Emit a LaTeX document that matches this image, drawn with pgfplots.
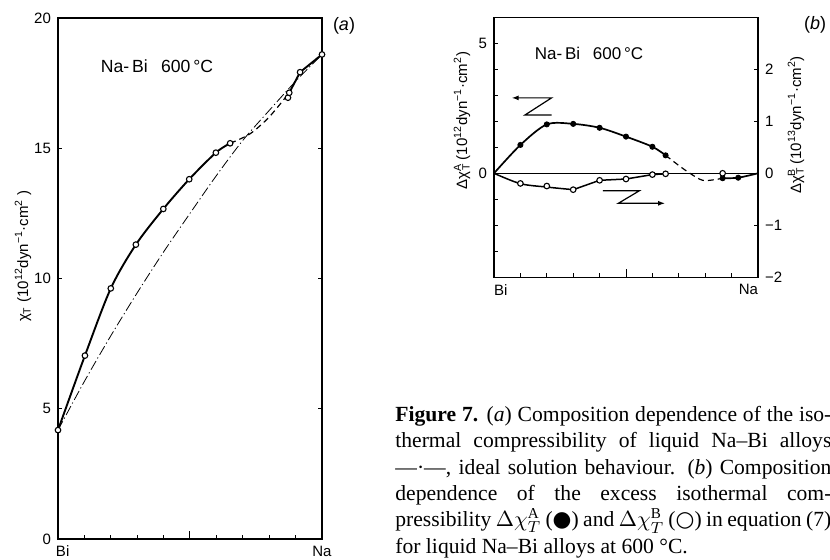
\documentclass[border=0pt]{standalone}
\usepackage{pgfplots}
\pgfplotsset{compat=1.18}
\usepackage{fontspec}
\setmainfont{Liberation Serif}
\newfontfamily\arialf{Liberation Sans}
\newfontfamily\symf{DejaVu Sans}
\usetikzlibrary{arrows.meta}
\pgfplotsset{
  myax/.style={
    scale only axis, width=132pt,
    axis line style={line width=0.6pt},
    every tick/.style={line width=0.5pt, black},
    tick align=inside,
    major tick length=2pt, minor tick length=2pt,
    tick label style={font=\arialf\fontsize{7.5}{8}\selectfont},
    /pgf/number format/assume math mode=true,
    xmin=0, xmax=1,
    xtick={0,1},
    minor xtick={0.1,0.2,0.3,0.4,0.6,0.7,0.8,0.9},
    extra x ticks={0.5}, extra x tick labels={},
    extra x tick style={major tick length=4pt},
    xtick pos=bottom,
    clip=false,
  },
  dot/.style={only marks, mark=*, mark size=1.3pt, mark options={black, fill=black}},
  ring/.style={only marks, mark=*, mark size=1.4pt, mark options={black, fill=white, line width=0.55pt}},
}
\begin{document}
\begin{tikzpicture}
\useasboundingbox (0,0) rectangle (415pt,280pt);
\clip (0,0) rectangle (415pt,280pt);

% ---------- panel (a)
\begin{axis}[myax, at={(29pt,10.5pt)}, anchor=south west, height=260.5pt,
  xticklabels={\makebox[0pt][l]{\hspace*{-1pt}Bi},Na},
  ymin=0, ymax=20, ytick={0,5,10,15,20}, ytick pos=both, yticklabel pos=left]
% ideal solution line
\addplot[black, line width=0.4pt, dash pattern=on 5pt off 1.5pt on 0.6pt off 1.5pt, smooth]
  coordinates {(0,4.18)(0.1,6.05)(0.2,7.8)(0.3,9.45)(0.4,11.02)(0.5,12.5)(0.6,13.95)(0.7,15.3)(0.8,16.45)(0.9,17.57)(1,18.6)};
% measured
\addplot[black, line width=0.95pt, smooth]
  coordinates {(0,4.18)(0.102,7.04)(0.2,9.62)(0.295,11.30)(0.399,12.67)(0.497,13.81)(0.598,14.83)(0.652,15.19)};
\addplot[black, line width=0.6pt, dash pattern=on 3pt off 2pt, smooth]
  coordinates {(0.652,15.19)(0.727,15.55)(0.80,16.2)(0.876,17.13)};
\addplot[black, line width=0.95pt]
  coordinates {(0.876,17.13)(0.917,17.92)(1,18.6)};
\addplot[ring] coordinates {(0,4.18)(0.102,7.04)(0.2,9.62)(0.295,11.30)(0.399,12.67)(0.497,13.81)(0.598,14.83)(0.652,15.19)(0.871,16.94)(0.876,17.13)(0.917,17.92)(1,18.6)};
\end{axis}

% ---------- panel (b), left axis
\begin{axis}[myax, at={(247pt,141.35pt)}, anchor=south west, height=130pt,
  xticklabels={\makebox[0pt][l]{Bi},\makebox[0pt][r]{Na}},
  ymin=-4, ymax=6, ytick={-4,-3,-2,-1,0,1,2,3,4,5,6},
  yticklabels={,,,,0,,,,,5,}, ytick pos=left]
\addplot[black, line width=0.6pt] coordinates {(0,0)(1,0)};
\addplot[black, line width=0.85pt, smooth]
  coordinates {(0,0)(0.1,1.09)(0.2,1.88)(0.3,1.9)(0.4,1.75)(0.5,1.41)(0.6,1.02)(0.65,0.69)};
\addplot[black, line width=0.6pt, dash pattern=on 3pt off 2pt, smooth]
  coordinates {(0.65,0.69)(0.7,0.3)(0.742,0)(0.79,-0.27)(0.84,-0.24)(0.866,-0.19)};
\addplot[black, line width=0.85pt, smooth]
  coordinates {(0.866,-0.19)(0.925,-0.17)(1,0)};
\addplot[dot] coordinates {(0.1,1.09)(0.2,1.88)(0.3,1.9)(0.4,1.75)(0.5,1.41)(0.6,1.02)(0.65,0.69)(0.866,-0.19)(0.925,-0.17)};
\draw[line width=0.6pt, {Latex[length=3.5pt,width=2.5pt]}-]
  (axis cs:0.067,2.9) -- (axis cs:0.218,2.9) -- (axis cs:0.117,2.24) -- (axis cs:0.218,2.24);
\end{axis}

% ---------- panel (b), right axis
\begin{axis}[scale only axis, width=132pt, height=130pt, at={(247pt,141.35pt)}, anchor=south west,
  xmin=0, xmax=1, ymin=-2, ymax=3, axis x line=none, axis y line*=right,
  axis line style={line width=0.6pt, -},
  every tick/.style={line width=0.5pt, black}, tick align=inside, major tick length=2pt,
  tick label style={font=\arialf\fontsize{7.5}{8}\selectfont},
  ytick={-2,-1,0,1,2}, yticklabels={−2,−1,0,1,2}, clip=false]
\addplot[black, line width=0.75pt, smooth]
  coordinates {(0,0)(0.1,-0.2)(0.2,-0.265)(0.3,-0.315)};
\addplot[black, line width=0.75pt]
  coordinates {(0.3,-0.315)(0.4,-0.135)(0.5,-0.11)(0.6,-0.025)(0.65,-0.01)};
\addplot[ring] coordinates {(0.1,-0.195)(0.2,-0.245)(0.3,-0.315)(0.4,-0.135)(0.5,-0.11)(0.6,-0.025)(0.65,-0.01)(0.866,0.0)};
\draw[line width=0.6pt, -{Latex[length=3.5pt,width=2.5pt]}]
  (axis cs:0.412,-0.335) -- (axis cs:0.551,-0.335) -- (axis cs:0.471,-0.577) -- (axis cs:0.648,-0.577);
\end{axis}

% ---------- labels
\begin{scope}[every node/.style={font=\arialf\fontsize{7.5}{9}\selectfont, inner sep=0pt}]
\node[rotate=90] at (11.5pt,152pt) {χ\textsubscript{T} (10\textsuperscript{12}dyn\textsuperscript{−1}·cm\textsuperscript{2} )};
\node[rotate=90, anchor=west] at (231pt,185pt) {Δχ\textsuperscript{A}\kern-0.45em\textsubscript{T}\kern0.2em (10\textsuperscript{12}dyn\textsuperscript{−1}·cm\textsuperscript{2})};
\node[rotate=90] at (398pt,217.5pt) {Δχ\textsuperscript{B}\kern-0.45em\textsubscript{T}\kern0.2em (10\textsuperscript{13}dyn\textsuperscript{−1}·cm\textsuperscript{2})};
\node[font=\arialf\fontsize{8.8}{9}\selectfont] at (78.5pt,247pt) {Na-\,Bi\hspace{0.75em}600\,°C};
\node[font=\arialf\fontsize{8.5}{9}\selectfont] at (294.5pt,253.5pt) {Na-\,Bi\hspace{0.75em}600\,°C};
\node[font=\arialf\fontsize{9}{10}\selectfont] at (172pt,267pt) {(\textit{a})};
\node[font=\arialf\fontsize{9}{10}\selectfont] at (407.5pt,267.5pt) {(\textit{b})};
\end{scope}

% ---------- caption (runs past the right edge, as in the reference)
\begin{scope}[every node/.style={anchor=base west, inner sep=0pt, font=\fontsize{10.8}{13}\selectfont}]
\node at (197.5pt,69.2pt) {\makebox[218pt][s]{\textbf{Figure 7.} (\textit{a}) Composition dependence of the iso-}};
\node at (197.5pt,56.05pt) {\makebox[218pt][s]{thermal compressibility of liquid Na–Bi alloys}};
\node at (197.5pt,42.9pt) {\makebox[218pt][s]{—·—, ideal solution behaviour. (\textit{b}) Composition}};
\node at (197.5pt,29.75pt) {\makebox[218pt][s]{dependence of the excess isothermal com-}};
\node at (197.5pt,16.6pt) {\makebox[218pt][s]{pressibility $\Delta\chi^{\mathrm{A}}_{T}$ ({\symf ●}) and $\Delta\chi^{\mathrm{B}}_{T}$ ({\symf ○}) in equation (7)}};
\node at (197.5pt,3.45pt) {for liquid Na–Bi alloys at 600 °C.};
\end{scope}
\end{tikzpicture}
\end{document}
